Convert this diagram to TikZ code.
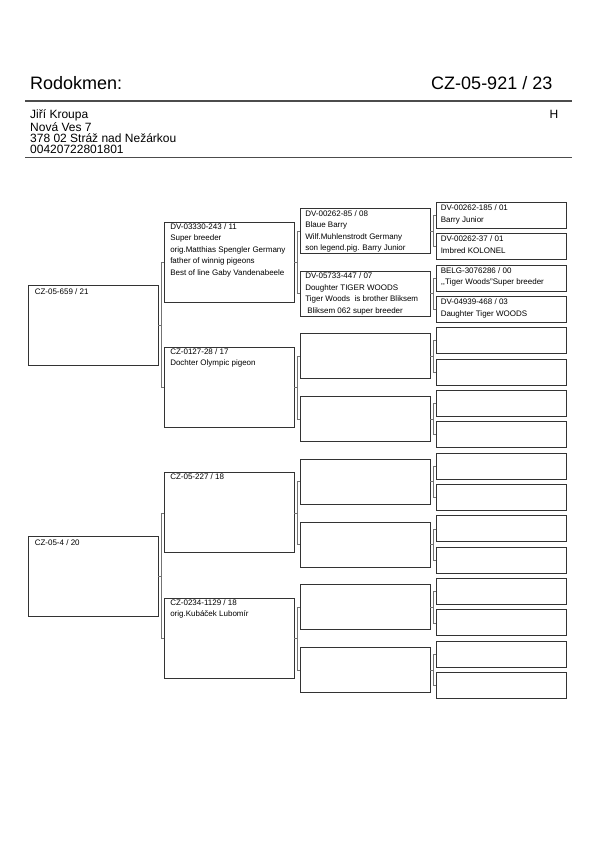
\documentclass[tikz,border=0pt]{standalone}
\usepackage{fontspec}
\setmainfont{Liberation Sans}
\begin{document}
\begin{tikzpicture}[x=1pt,y=-1pt]
\tikzset{
  box/.style={draw=black!80, line width=0.9pt, minimum width=130pt, inner sep=0pt, fill=white},
  bone/.style={box, minimum height=80pt},
  btwo/.style={box, minimum height=80pt},
  bthree/.style={box, minimum height=45pt},
  bfour/.style={box, minimum height=26pt},
  txt/.style={anchor=base west, inner sep=0pt, font=\fontsize{8}{11.5}\selectfont},
  conn/.style={draw=black!55, line width=0.6pt},
  rule/.style={draw=black!70, line width=1.1pt},
}
\useasboundingbox (0,0) rectangle (600,848);
% header
\node[anchor=base west, inner sep=0pt, font=\fontsize{18}{20}\selectfont] (title) at (30,89.6) {Rodokmen:};
\node[anchor=base east, inner sep=0pt, font=\fontsize{18}{20}\selectfont] (ring) at (552.5,89.6) {CZ-05-921 / 23};
\coordinate (r1a) at (25,101); \coordinate (r1b) at (572,101);
\draw[rule] (r1a) -- (r1b);
\node[anchor=base west, inner sep=0pt, font=\fontsize{12}{11.3}\selectfont] (addr) at (30,119)
  {\parbox[t]{300pt}{Jiří Kroupa\\Nová Ves 7\\378 02 Stráž nad Nežárkou\\00420722801801}};
\node[anchor=base east, inner sep=0pt, font=\fontsize{12}{12}\selectfont] (sex) at (558.5,118.6) {H};
\coordinate (r2a) at (25,157.5); \coordinate (r2b) at (572,157.5);
\draw[rule] (r2a) -- (r2b);
% boxes
\foreach \k in {0,...,15} { \node[bfour] (d\k) at (501,{215.4+31.34*\k}) {}; }
\foreach \j in {0,...,7} { \node[bthree] (c\j) at (365,{231.07+62.68*\j}) {}; }
\foreach \i in {0,...,3} { \node[btwo] (b\i) at (229,{262.08+125.36*\i}) {}; }
\foreach \m in {0,1} { \node[bone] (a\m) at (93,{325.76+250.72*\m}) {}; }
% connectors
\foreach \p/\l/\r in {a0/b0/b1, a1/b2/b3,
  b0/c0/c1, b1/c2/c3, b2/c4/c5, b3/c6/c7,
  c0/d0/d1, c1/d2/d3, c2/d4/d5, c3/d6/d7, c4/d8/d9, c5/d10/d11, c6/d12/d13, c7/d14/d15} {
  \draw[conn] (\p.east) -- ++(3,0) coordinate (t);
  \draw[conn] (\l.west) -| (t) |- (\r.west);
}
% texts
\node[txt] (ta0) at ([xshift=7pt,yshift=-9pt]a0.north west) {CZ-05-659 / 21};
\node[txt] (ta1) at ([xshift=7pt,yshift=-9pt]a1.north west) {CZ-05-4 / 20};
\node[txt] (tb0) at ([xshift=6.5pt,yshift=-7.4pt]b0.north west) {\parbox[t]{125pt}{DV-03330-243 / 11\\Super breeder\\orig.Matthias Spengler Germany\\father of winnig pigeons\\Best of line Gaby Vandenabeele}};
\node[txt] (tb1) at ([xshift=6.5pt,yshift=-7.4pt]b1.north west) {\parbox[t]{125pt}{CZ-0127-28 / 17\\Dochter Olympic pigeon}};
\node[txt] (tb2) at ([xshift=6.5pt,yshift=-7.4pt]b2.north west) {CZ-05-227 / 18};
\node[txt] (tb3) at ([xshift=6.5pt,yshift=-7.4pt]b3.north west) {\parbox[t]{125pt}{CZ-0234-1129 / 18\\orig.Kubáček Lubomír}};
\node[txt] (tc0) at ([xshift=5.5pt,yshift=-7.9pt]c0.north west) {\parbox[t]{125pt}{DV-00262-85 / 08\\Blaue Barry\\Wilf.Muhlenstrodt Germany\\son legend.pig. Barry Junior}};
\node[txt] (tc1) at ([xshift=5.5pt,yshift=-7.9pt]c1.north west) {\parbox[t]{125pt}{DV-05733-447 / 07\\Doughter TIGER WOODS\\Tiger Woods\ \ is brother Bliksem\\\hspace*{2pt}Bliksem 062 super breeder}};
\node[txt] (td0) at ([xshift=5pt,yshift=-8.7pt]d0.north west) {\parbox[t]{125pt}{DV-00262-185 / 01\\Barry Junior}};
\node[txt] (td1) at ([xshift=5pt,yshift=-8.7pt]d1.north west) {\parbox[t]{125pt}{DV-00262-37 / 01\\Imbred KOLONEL}};
\node[txt] (td2) at ([xshift=5pt,yshift=-8.7pt]d2.north west) {\parbox[t]{125pt}{BELG-3076286 / 00\\,{},Tiger Woods"Super breeder}};
\node[txt] (td3) at ([xshift=5pt,yshift=-8.7pt]d3.north west) {\parbox[t]{125pt}{DV-04939-468 / 03\\Daughter Tiger WOODS}};
\end{tikzpicture}
\end{document}
